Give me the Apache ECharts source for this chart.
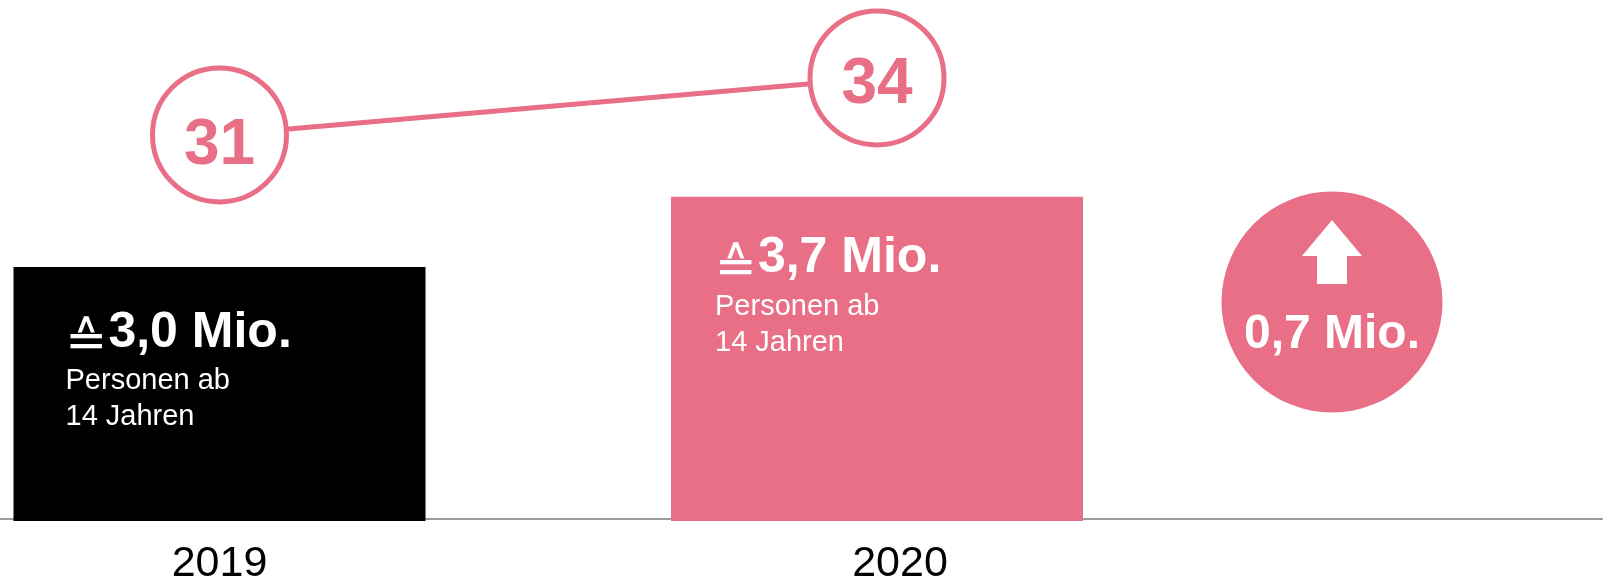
<!DOCTYPE html>
<html>
<head>
<meta charset="utf-8">
<script src="https://cdn.jsdelivr.net/npm/echarts@6.0.0/dist/echarts.min.js"></script>
<style>
  html, body { margin: 0; padding: 0; background: #fff; }
  #reachChart { width: 1614px; height: 580px; }
</style>
</head>
<body>
<div id="reachChart"></div>
<script>
// data
var years = ['2019', '2020', ''];
var reachMio = [3.0, 3.7];          // Mio. Personen ab 14 Jahren
var sharePct = [31, 34];            // circle values on the line
var barColors = ['#000000', '#e96f87'];
var subText = ['Personen ab', '14 Jahren'];

var pink = '#e96f87';
var font = '"Liberation Sans", Arial, sans-serif';

function deNum(v) {
    return v.toFixed(1).replace('.', ',');
}

document.addEventListener("DOMContentLoaded", () => {
    var chart = echarts.init(document.querySelector("#reachChart"));

    // bar labels, offsets a bit different for each box
    var labelPos = [[52, 36], [44, 32]];
    var barData = reachMio.map(function (v, i) {
        return {
            value: v,
            itemStyle: { color: barColors[i] },
            label: { position: labelPos[i] }
        };
    });

    // numbers sit a little low in the circles
    var circleOffsets = [[0, 11], [0, 7]];
    var lineData = sharePct.map(function (v, i) {
        return { value: v, label: { offset: circleOffsets[i] } };
    });

    var delta = reachMio[1] - reachMio[0];

    chart.setOption({
        animation: false,
        textStyle: { fontFamily: font },
        grid: [
            { left: -109.25, right: -249.25, top: 19, bottom: 59, outerBoundsMode: 'none' },
            { left: 0, right: 12, top: 19, bottom: 61, outerBoundsMode: 'none' }
        ],
        xAxis: [{
            type: 'category',
            gridIndex: 0,
            data: years,
            axisLine: { show: false },
            axisTick: { show: false },
            axisLabel: {
                fontSize: 43,
                color: '#000',
                margin: 22,
                formatter: function (val, idx) {
                    return idx == 1 ? '{r|' + val + '}' : val;
                },
                rich: {
                    r: { fontSize: 43, color: '#000', padding: [0, 0, 0, 46] }
                }
            }
        }, {
            type: 'value',
            gridIndex: 1,
            min: 0,
            max: 1,
            axisLine: { show: true, lineStyle: { color: '#9a9a9a', width: 2 } },
            axisTick: { show: false },
            axisLabel: { show: false },
            splitLine: { show: false }
        }],
        yAxis: [{
            type: 'value',
            gridIndex: 0,
            min: 0.47,
            max: 5.47,
            show: false
        }, {
            type: 'value',
            gridIndex: 0,
            min: 10.684,
            max: 37.1,
            show: false
        }, {
            type: 'value',
            gridIndex: 1,
            min: 0,
            max: 1,
            show: false
        }],
        series: [{
            name: 'Reichweite',
            type: 'bar',
            xAxisIndex: 0,
            yAxisIndex: 0,
            barWidth: 412,
            data: barData,
            label: {
                show: true,
                align: 'left',
                verticalAlign: 'top',
                formatter: function (p) {
                    return '{eq|\u2259}{v|' + deNum(p.value) + ' Mio.}\n{s|' + subText[0] + '}\n{s|' + subText[1] + '}';
                },
                rich: {
                    eq: { fontFamily: '"DejaVu Sans"', fontSize: 50, color: '#fff', lineHeight: 60, padding: [22, 0, 0, 0] },
                    v: { fontFamily: font, fontSize: 50, fontWeight: 'bold', color: '#fff', lineHeight: 60, padding: [0, 0, 0, 1] },
                    s: { fontFamily: font, fontSize: 29, color: '#fff', lineHeight: 36 }
                }
            }
        }, {
            name: 'Anteil',
            type: 'line',
            xAxisIndex: 0,
            yAxisIndex: 1,
            data: lineData,
            lineStyle: { color: pink, width: 5 },
            symbol: 'circle',
            symbolSize: 134,
            itemStyle: { color: '#fff', borderColor: pink, borderWidth: 5 },
            label: {
                show: true,
                position: 'inside',
                fontSize: 64,
                fontWeight: 'bold',
                fontFamily: font,
                color: pink
            },
            z: 3
        }],
        // change badge
        graphic: [{
            type: 'group',
            children: [{
                type: 'circle',
                shape: { cx: 1332, cy: 302, r: 110.5 },
                style: { fill: pink }
            }, {
                type: 'polygon',
                shape: {
                    points: [[1332, 220], [1362, 256], [1347, 256], [1347, 284], [1317, 284], [1317, 256], [1302, 256]]
                },
                style: { fill: '#fff' }
            }, {
                type: 'text',
                x: 1332,
                y: 335,
                style: {
                    text: deNum(delta) + ' Mio.',
                    fill: '#fff',
                    fontSize: 48,
                    fontWeight: 'bold',
                    fontFamily: font,
                    align: 'center',
                    verticalAlign: 'middle'
                }
            }]
        }]
    });
});
</script>
</body>
</html>
